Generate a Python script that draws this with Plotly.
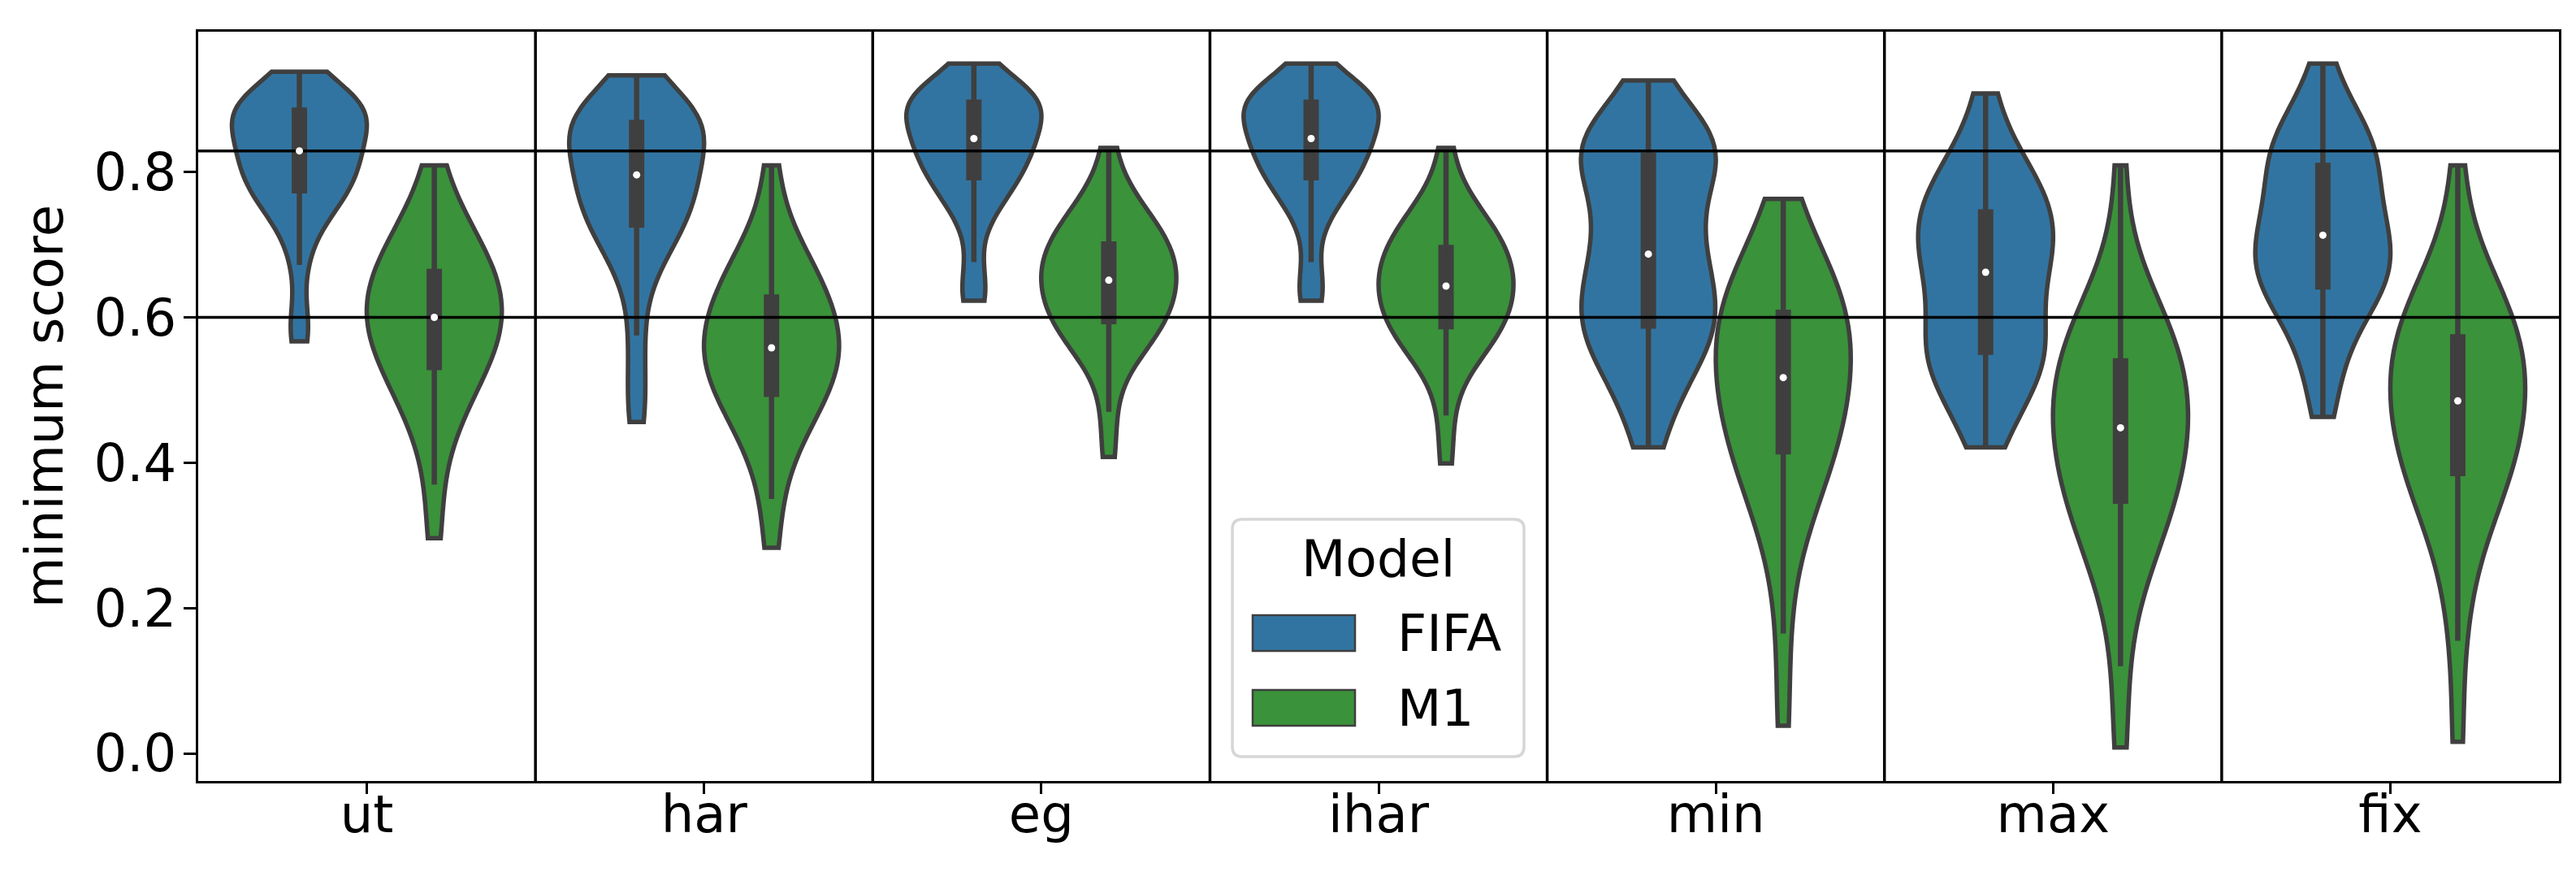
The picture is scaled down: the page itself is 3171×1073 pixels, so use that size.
import numpy as np
import plotly.graph_objects as go

categories = ["ut", "har", "eg", "ihar", "min", "max", "fix"]
models = ["FIFA", "M1"]

# scores, 33 per violin, sorted
# (index 0 = min, 8 = q1, 16 = median, 24 = q3, 32 = max)
fifa_ut = [0.567, 0.600, 0.672, 0.712, 0.735, 0.748, 0.758, 0.767,
           0.774, 0.782, 0.789, 0.796, 0.803, 0.810, 0.816, 0.823,
           0.829, 0.836, 0.843, 0.850, 0.857, 0.864, 0.871, 0.878,
           0.885, 0.887, 0.890, 0.893, 0.896, 0.900, 0.906, 0.916, 0.938]
m1_ut = [0.296, 0.370, 0.430, 0.455, 0.475, 0.493, 0.508, 0.520,
         0.531, 0.541, 0.550, 0.559, 0.568, 0.576, 0.584, 0.592,
         0.600, 0.608, 0.616, 0.624, 0.632, 0.640, 0.648, 0.656,
         0.663, 0.674, 0.685, 0.696, 0.707, 0.720, 0.738, 0.760, 0.809]
fifa_har = [0.456, 0.510, 0.575, 0.640, 0.672, 0.693, 0.707, 0.718,
            0.727, 0.737, 0.746, 0.755, 0.764, 0.773, 0.782, 0.789,
            0.796, 0.805, 0.814, 0.823, 0.832, 0.841, 0.850, 0.859,
            0.868, 0.870, 0.873, 0.876, 0.880, 0.885, 0.892, 0.904, 0.933]
m1_har = [0.283, 0.350, 0.400, 0.425, 0.443, 0.460, 0.472, 0.484,
          0.494, 0.503, 0.512, 0.521, 0.530, 0.538, 0.545, 0.552,
          0.558, 0.566, 0.574, 0.583, 0.592, 0.601, 0.610, 0.619,
          0.628, 0.638, 0.648, 0.659, 0.671, 0.687, 0.705, 0.735, 0.809]
fifa_eg = [0.623, 0.632, 0.676, 0.728, 0.750, 0.764, 0.774, 0.783,
           0.792, 0.800, 0.807, 0.814, 0.821, 0.828, 0.834, 0.840,
           0.846, 0.852, 0.858, 0.864, 0.870, 0.877, 0.884, 0.890,
           0.896, 0.898, 0.901, 0.904, 0.907, 0.911, 0.917, 0.928, 0.949]
m1_eg = [0.408, 0.470, 0.530, 0.550, 0.562, 0.572, 0.580, 0.588,
         0.594, 0.602, 0.609, 0.616, 0.623, 0.630, 0.637, 0.644,
         0.651, 0.657, 0.663, 0.669, 0.675, 0.682, 0.689, 0.695,
         0.701, 0.709, 0.717, 0.725, 0.734, 0.745, 0.758, 0.775, 0.833]
fifa_ihar = [0.623, 0.633, 0.676, 0.727, 0.750, 0.764, 0.774, 0.783,
             0.792, 0.800, 0.807, 0.814, 0.821, 0.828, 0.834, 0.840,
             0.846, 0.852, 0.858, 0.864, 0.870, 0.877, 0.884, 0.890,
             0.896, 0.898, 0.901, 0.904, 0.907, 0.911, 0.917, 0.928, 0.949]
m1_ihar = [0.399, 0.465, 0.522, 0.543, 0.555, 0.565, 0.573, 0.581,
           0.587, 0.595, 0.602, 0.609, 0.616, 0.623, 0.630, 0.637,
           0.643, 0.649, 0.656, 0.662, 0.669, 0.676, 0.683, 0.690,
           0.696, 0.704, 0.712, 0.720, 0.729, 0.740, 0.753, 0.770, 0.833]
fifa_min = [0.421, 0.468, 0.500, 0.523, 0.541, 0.555, 0.567, 0.578,
            0.588, 0.599, 0.610, 0.621, 0.633, 0.646, 0.660, 0.674,
            0.687, 0.704, 0.721, 0.738, 0.755, 0.772, 0.789, 0.806,
            0.823, 0.827, 0.832, 0.838, 0.845, 0.853, 0.863, 0.880, 0.926]
m1_min = [0.038, 0.165, 0.270, 0.310, 0.340, 0.363, 0.383, 0.400,
          0.415, 0.428, 0.440, 0.453, 0.466, 0.479, 0.491, 0.504,
          0.517, 0.528, 0.539, 0.551, 0.562, 0.573, 0.584, 0.596,
          0.607, 0.618, 0.629, 0.640, 0.652, 0.668, 0.685, 0.705, 0.763]
fifa_max = [0.421, 0.452, 0.476, 0.496, 0.512, 0.525, 0.536, 0.545,
            0.552, 0.565, 0.578, 0.591, 0.605, 0.619, 0.634, 0.648,
            0.662, 0.673, 0.684, 0.694, 0.704, 0.714, 0.724, 0.735,
            0.745, 0.755, 0.766, 0.778, 0.791, 0.806, 0.824, 0.850, 0.908]
m1_max = [0.008, 0.120, 0.215, 0.250, 0.275, 0.298, 0.316, 0.332,
          0.347, 0.360, 0.373, 0.386, 0.398, 0.411, 0.423, 0.436,
          0.448, 0.460, 0.471, 0.482, 0.494, 0.505, 0.517, 0.528,
          0.540, 0.552, 0.565, 0.578, 0.592, 0.610, 0.632, 0.665, 0.809]
fifa_fix = [0.463, 0.510, 0.545, 0.572, 0.593, 0.610, 0.623, 0.633,
            0.642, 0.651, 0.660, 0.669, 0.678, 0.687, 0.696, 0.705,
            0.713, 0.724, 0.735, 0.746, 0.758, 0.770, 0.783, 0.796,
            0.809, 0.818, 0.828, 0.839, 0.851, 0.864, 0.879, 0.900, 0.949]
m1_fix = [0.016, 0.155, 0.235, 0.285, 0.315, 0.340, 0.358, 0.372,
          0.385, 0.398, 0.411, 0.423, 0.436, 0.448, 0.460, 0.473,
          0.485, 0.496, 0.507, 0.518, 0.529, 0.540, 0.551, 0.562,
          0.573, 0.585, 0.597, 0.609, 0.622, 0.637, 0.660, 0.690, 0.809]

fifa_scores = [fifa_ut, fifa_har, fifa_eg, fifa_ihar, fifa_min, fifa_max, fifa_fix]
m1_scores = [m1_ut, m1_har, m1_eg, m1_ihar, m1_min, m1_max, m1_fix]

ref_lines = [0.6, 0.829]
y_ticks = [0.0, 0.2, 0.4, 0.6, 0.8]

colors = {"FIFA": "#3274a1", "M1": "#3a923a"}
edge = "#3f3f3f"
font = "DejaVu Sans"
W, H = 3171, 1073
L, R, T, B = 236, 29, 31, 120
y_range = [-0.038, 0.993]
bw_scale = {"FIFA": 0.42, "M1": 0.5}

fig = go.Figure()

offsets = {"FIFA": -0.2, "M1": 0.2}
med_x, med_y = [], []
for model, scores in zip(models, [fifa_scores, m1_scores]):
    for i, vals in enumerate(scores):
        pos = i + offsets[model]
        fig.add_trace(go.Violin(
            y=vals, x0=pos, width=0.4, name=model, legendgroup=model,
            showlegend=False, fillcolor=colors[model], opacity=1,
            line=dict(color=edge, width=5.5),
            spanmode="hard", points=False, scalemode="width",
            bandwidth=bw_scale[model] * np.std(vals), quartilemethod="inclusive",
            box=dict(visible=True, width=0.075, fillcolor=edge,
                     line=dict(color=edge, width=6.5)),
            meanline=dict(visible=False), hoveron="violins"))
        med_x.append(pos)
        med_y.append(float(np.median(vals)))

# reference lines (drawn over the violins, under the median dots)
n = len(categories)
for v in ref_lines:
    fig.add_trace(go.Scatter(x=[-0.5, n - 0.5], y=[v, v], mode="lines",
                             line=dict(color="black", width=3.5),
                             showlegend=False, hoverinfo="skip"))
for i in range(n - 1):
    fig.add_trace(go.Scatter(x=[i + 0.5, i + 0.5], y=y_range, mode="lines",
                             line=dict(color="black", width=3.5),
                             showlegend=False, hoverinfo="skip"))

fig.add_trace(go.Scatter(x=med_x, y=med_y, mode="markers",
                         marker=dict(color="white", size=9, line=dict(width=0)),
                         showlegend=False, hoverinfo="skip"))


# hand-built legend box, positioned in pixels of the figure
def px(x):
    return (x - L) / (W - L - R)


def py(y):
    return (H - B - y) / (H - T - B)


x0, x1, y0, y1, r = 1509, 1868, 631, 923, 12
frame = (f"M{px(x0 + r)},{py(y0)} L{px(x1 - r)},{py(y0)} "
         f"Q{px(x1)},{py(y0)} {px(x1)},{py(y0 + r)} "
         f"L{px(x1)},{py(y1 - r)} Q{px(x1)},{py(y1)} {px(x1 - r)},{py(y1)} "
         f"L{px(x0 + r)},{py(y1)} Q{px(x0)},{py(y1)} {px(x0)},{py(y1 - r)} "
         f"L{px(x0)},{py(y0 + r)} Q{px(x0)},{py(y0)} {px(x0 + r)},{py(y0)} Z")
shapes = [dict(type="path", path=frame, xref="paper", yref="paper",
               fillcolor="white", line=dict(color="#d6d6d6", width=3.5))]
annotations = [dict(text="Model", x=px(1688), y=py(680), xref="paper", yref="paper",
                    xanchor="center", yanchor="middle", showarrow=False,
                    font=dict(family=font, size=63, color="black"))]
for model, yc in zip(models, [771, 863]):
    shapes.append(dict(type="rect", xref="paper", yref="paper",
                       x0=px(1534), x1=px(1660), y0=py(yc - 22), y1=py(yc + 22),
                       fillcolor=colors[model], line=dict(color=edge, width=2.5)))
    annotations.append(dict(text=model, x=px(1710), y=py(yc), xref="paper", yref="paper",
                            xanchor="left", yanchor="middle", showarrow=False,
                            font=dict(family=font, size=63, color="black")))

axis_common = dict(showline=True, mirror=True, linecolor="black", linewidth=3,
                   showgrid=False, zeroline=False, ticks="outside",
                   tickwidth=3, tickcolor="black",
                   tickfont=dict(family=font, size=64, color="black"))

fig.update_layout(
    width=W, height=H,
    margin=dict(l=L, r=R, t=T, b=B, autoexpand=False),
    paper_bgcolor="white", plot_bgcolor="white",
    violinmode="overlay", showlegend=False,
    shapes=shapes, annotations=annotations,
    xaxis=dict(range=[-0.5, n - 0.5], tickvals=list(range(n)), ticktext=categories,
               ticklen=13, ticklabelstandoff=-30, **axis_common),
    yaxis=dict(range=y_range, tickvals=y_ticks, tickformat=".1f",
               ticklen=15, ticklabelstandoff=-4,
               title=dict(text="minimum score", standoff=18,
                          font=dict(family=font, size=64, color="black")),
               **axis_common),
)

fig.write_html("out.html")
